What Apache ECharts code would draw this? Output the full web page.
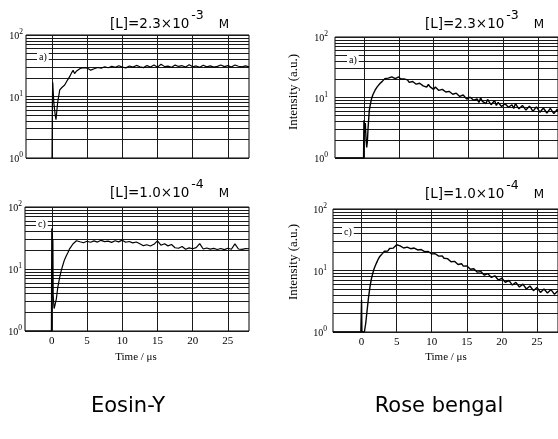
<!DOCTYPE html>
<html><head><meta charset="utf-8">
<script src="https://cdn.jsdelivr.net/npm/echarts@6/dist/echarts.min.js"></script>
<style>html,body{margin:0;padding:0;background:#fff}#c{width:558px;height:439px}</style>
</head><body><div id="c"></div><script>
// ---------- data ----------
const xTickValues = [0, 5, 10, 15, 20, 25];
const yLabelValues = [1, 10, 100];
const yGridValues = [1,2,3,4,5,6,7,8,9,10,20,30,40,50,60,70,80,90,100];

const titleMain = ['[L]=2.3×10', '[L]=2.3×10', '[L]=1.0×10', '[L]=1.0×10'];
const titleExp = ['-3', '-3', '-4', '-4'];
const titleUnit = 'M';
const panelTags = ['a)', 'a)', 'c)', 'c)'];
const dyeNames = ['Eosin-Y', 'Rose bengal'];

// Eosin-Y, [L]=2.3e-3 M (panel a)
const eosinA_earlyT = [0, 0.05, 0.1, 0.25, 0.45, 0.56, 0.8, 1.1, 1.4, 1.8, 2.2, 2.5, 2.8, 3.0, 3.2, 3.5, 3.7, 4.0];
const eosinA_earlyV = [1, 8, 17, 8, 5, 4.2, 8, 12.8, 14, 15.4, 18.5, 21, 24.5, 26.7, 23.6, 26, 27, 28.5];
const eosinA_tailStart = 4.5, eosinA_tailStep = 0.5;
const eosinA_tailV = [29.5,29.0,26.8,28.2,29.6,28.9,30.5,29.3,31.0,29.8,31.6,30.1,29.2,31.3,30.0,32.0,30.4,29.5,31.8,30.2,
  32.6,30.0,33.5,30.6,31.2,29.9,32.4,30.8,31.7,30.1,32.9,30.5,31.4,29.8,32.2,30.3,31.5,30.0,30.9,32.5,
  30.6,31.8,30.2,32.6,31.0,30.3,31.5,30.4];

// Eosin-Y, [L]=1.0e-4 M (panel c)
const eosinC_earlyT = [-3.8, -0.05, 0, 0.04, 0.08, 0.12, 0.16, 0.2, 0.33, 0.45, 0.65, 0.85, 1.1, 1.35, 1.6, 1.8, 2.05, 2.3, 2.5, 2.75, 3.0, 3.25, 3.5];
const eosinC_earlyV = [1, 1, 45, 4, 38, 5, 30, 3.8, 2.3, 2.6, 3.3, 5, 7.1, 9.5, 11.8, 14, 16.2, 18.5, 20.9, 23, 25.3, 27, 28.6];
const eosinC_tailStart = 4.0, eosinC_tailStep = 0.5;
const eosinC_tailV = [27.5,26.5,28.0,27.0,28.4,27.2,29.0,27.6,28.2,26.9,28.5,27.4,29.2,27.0,27.8,26.4,27.3,25.6,23.8,24.6,
  23.5,25.0,28.4,24.2,25.6,23.6,24.8,22.0,21.6,23.0,20.8,21.9,21.2,22.1,25.6,21.0,21.8,20.9,21.5,20.6,
  21.4,20.5,21.6,20.8,25.4,21.0,20.7,21.3,21.2];

// Rose bengal, [L]=2.3e-3 M (panel a, right)
const roseA_earlyT = [-4.1, -0.05, 0, 0.1, 0.2, 0.3, 0.4, 0.5, 0.6, 0.77, 0.95, 1.1, 1.3, 1.6, 1.9, 2.3, 2.6, 2.8];
const roseA_earlyV = [1, 1, 4.2, 2.6, 3.8, 2.1, 1.5, 1.9, 3.2, 6.1, 8.0, 9.6, 11.2, 13.2, 15.0, 17.0, 18.3, 19.0];
const roseA_tailStart = 3.0, roseA_tailStep = 0.25;
const roseA_tailV = [20.5,21.8,20.9,20.4,21.9,21.2,20.6,21.5,21.9,20.2,19.4,20.3,20.8,19.6,17.8,18.9,18.4,17.2,16.6,17.9,
  17.2,16.1,15.6,16.3,14.8,16.4,15.0,14.2,13.6,14.9,14.3,13.1,12.5,13.6,13.9,12.3,11.4,12.6,12.1,11.3,
  10.6,11.8,11.5,10.4,9.8,11.0,10.6,9.4,9.2,10.1,10.3,9.0,8.6,9.5,8.3,9.9,8.6,8.1,7.9,9.3,
  8.4,7.6,8.2,8.9,7.4,8.3,7.8,7.1,7.0,7.9,8.2,6.9,6.8,7.6,6.6,8.0,7.1,6.5,6.3,7.4,
  7.0,6.2,6.1,7.2,6.6,5.9,5.8,7.0,6.4,5.7,5.6,6.7,6.1,5.5,5.3,6.6,6.2,5.4,5.2,6.4,5.5];

// Rose bengal, [L]=1.0e-4 M (panel c, right)
const roseC_earlyT = [-4.1, -0.1, 0, 0.05, 0.4, 0.6, 0.8, 1.0, 1.2, 1.4, 1.6, 1.8, 2.0, 2.2, 2.4, 2.6, 2.8];
const roseC_earlyV = [1, 1, 3.3, 1, 1, 1.4, 2.3, 3.7, 5.4, 7.3, 9.0, 10.8, 12.3, 13.8, 15.5, 16.9, 18.0];
const roseC_tailStart = 3.0, roseC_tailStep = 0.25;
const roseC_tailV = [19.0,20.6,21.2,20.8,22.8,23.9,23.1,24.8,26.2,24.6,25.1,24.3,23.2,22.9,24.0,23.3,22.6,22.3,23.2,22.5,
  21.6,20.9,21.9,21.2,20.3,19.6,20.4,19.8,18.6,17.8,18.7,18.2,17.1,16.4,17.3,15.8,16.3,15.6,14.7,13.9,
  14.6,14.1,13.2,12.5,13.4,12.9,11.8,11.2,11.9,11.6,10.5,9.9,10.7,10.3,9.4,8.9,9.6,9.2,8.4,8.1,
  8.9,8.5,7.7,7.4,8.2,7.9,7.0,6.7,7.5,7.2,6.4,6.1,6.9,6.6,5.8,5.7,6.4,6.1,5.4,5.3,
  6.0,5.7,5.0,4.9,5.6,5.3,4.7,4.6,5.3,5.0,4.4,4.4,5.0,4.8,4.3,4.2,4.9,4.6,4.1,4.1,4.7];

// ---------- build ----------
function buildSeries(earlyT, earlyV, start, step, tailV) {
  const pts = earlyT.map((t, i) => [t, earlyV[i]]);
  tailV.forEach((v, i) => pts.push([+(start + i * step).toFixed(3), v]));
  return pts;
}
const seriesData = [
  buildSeries(eosinA_earlyT, eosinA_earlyV, eosinA_tailStart, eosinA_tailStep, eosinA_tailV),
  buildSeries(roseA_earlyT, roseA_earlyV, roseA_tailStart, roseA_tailStep, roseA_tailV),
  buildSeries(eosinC_earlyT, eosinC_earlyV, eosinC_tailStart, eosinC_tailStep, eosinC_tailV),
  buildSeries(roseC_earlyT, roseC_earlyV, roseC_tailStart, roseC_tailStep, roseC_tailV)
];

const grids = [
  {left: 26, top: 35, width: 223, height: 123},
  {left: 335, top: 37, width: 223, height: 121},
  {left: 25, top: 207, width: 224, height: 124},
  {left: 333, top: 209, width: 225, height: 123}
];
const xRanges = [[-3.7, 28], [-4.15, 27.85], [-3.8, 28], [-4.07, 28.0]];
const yLabelMargins = [3, 7, 3, 6];

const serif = 'Liberation Serif';
const sans = 'DejaVu Sans';
const gridLine = {color: '#1a1a1a', width: 1};

const option = {
  animation: false,
  backgroundColor: '#fff',
  grid: grids.map(g => Object.assign({show: true, borderColor: '#000', borderWidth: 1, containLabel: false, outerBoundsMode: 'none'}, g)),
  xAxis: grids.map((g, i) => ({
    type: 'value', gridIndex: i, min: xRanges[i][0], max: xRanges[i][1],
    axisLine: {show: false},
    axisTick: {show: false, customValues: xTickValues},
    splitLine: {show: true, lineStyle: gridLine},
    axisLabel: {show: i >= 2, customValues: xTickValues, color: '#000', fontFamily: serif, fontSize: 11, margin: 5}
  })),
  yAxis: grids.map((g, i) => ({
    type: 'log', logBase: 10, gridIndex: i, min: 1, max: 100,
    axisLine: {show: false},
    axisTick: {show: false, customValues: yGridValues},
    minorTick: {show: false},
    splitLine: {show: true, lineStyle: gridLine},
    axisLabel: {
      customValues: yLabelValues, margin: yLabelMargins[i],
      formatter: v => '{b|10}{s|' + Math.round(Math.log10(v)) + '}',
      rich: {
        b: {fontFamily: serif, fontSize: 10, color: '#000', lineHeight: 13, verticalAlign: 'bottom'},
        s: {fontFamily: serif, fontSize: 7.5, color: '#000', lineHeight: 9, verticalAlign: 'top'}
      }
    }
  })),
  series: seriesData.map((d, i) => ({
    type: 'line', xAxisIndex: i, yAxisIndex: i, data: d,
    showSymbol: false, symbol: 'none', clip: true,
    lineStyle: {color: '#000', width: i % 2 ? 1.4 : 1.2}
  })),
  graphic: []
};

// titles: main text, raised exponent, unit
const ctx = document.createElement('canvas').getContext('2d');
function textW(font, s) { ctx.font = font; return ctx.measureText(s).width; }
const fMain = '13.5px "' + sans + '"', fExp = '12.5px "' + sans + '"', fUnit = '12px "' + sans + '"';
const titlePos = [[110, 24], [425, 24], [110, 193], [425, 194]];
titleMain.forEach((t, i) => {
  const [x, y] = titlePos[i];
  const w1 = textW(fMain, t);
  const w2 = textW(fExp, titleExp[i]);
  option.graphic.push(
    {type: 'text', x: x, y: y, z: 100, style: {text: t, font: fMain, fill: '#000', verticalAlign: 'middle'}},
    {type: 'text', x: x + w1 + 2, y: y - 8, z: 100, style: {text: titleExp[i], font: fExp, fill: '#000', verticalAlign: 'middle'}},
    {type: 'text', x: x + w1 + w2 + 17, y: y + 1, z: 100, style: {text: titleUnit, font: fUnit, fill: '#000', verticalAlign: 'middle'}}
  );
});
// panel tags
const tagPos = [[37, 57], [347, 60], [36, 224], [342, 232]];
panelTags.forEach((t, i) => {
  option.graphic.push({
    type: 'text', x: tagPos[i][0], y: tagPos[i][1], z: 100,
    style: {text: t, font: '10px ' + serif, fill: '#000', backgroundColor: '#fff', padding: [1, 2], verticalAlign: 'middle'}
  });
});
// y-axis names (right panels)
[[294, 92], [294, 262]].forEach(p => {
  option.graphic.push({
    type: 'text', x: p[0], y: p[1], rotation: Math.PI / 2, z: 100,
    style: {text: 'Intensity (a.u.)', font: '13px ' + serif, fill: '#000', align: 'center', verticalAlign: 'middle'}
  });
});
// x-axis names
[[136, 357], [446, 357]].forEach(p => {
  option.graphic.push({
    type: 'text', x: p[0], y: p[1], z: 100,
    style: {text: 'Time / μs', font: '11px ' + serif, fill: '#000', align: 'center', verticalAlign: 'middle'}
  });
});
// dye names
[[128, 407], [439, 407]].forEach((p, i) => {
  option.graphic.push({
    type: 'text', x: p[0], y: p[1], z: 100,
    style: {text: dyeNames[i], font: '21px ' + sans, fill: '#000', align: 'center', verticalAlign: 'middle'}
  });
});

const chart = echarts.init(document.getElementById('c'), null, {renderer: 'canvas'});
chart.setOption(option);
</script></body></html>
